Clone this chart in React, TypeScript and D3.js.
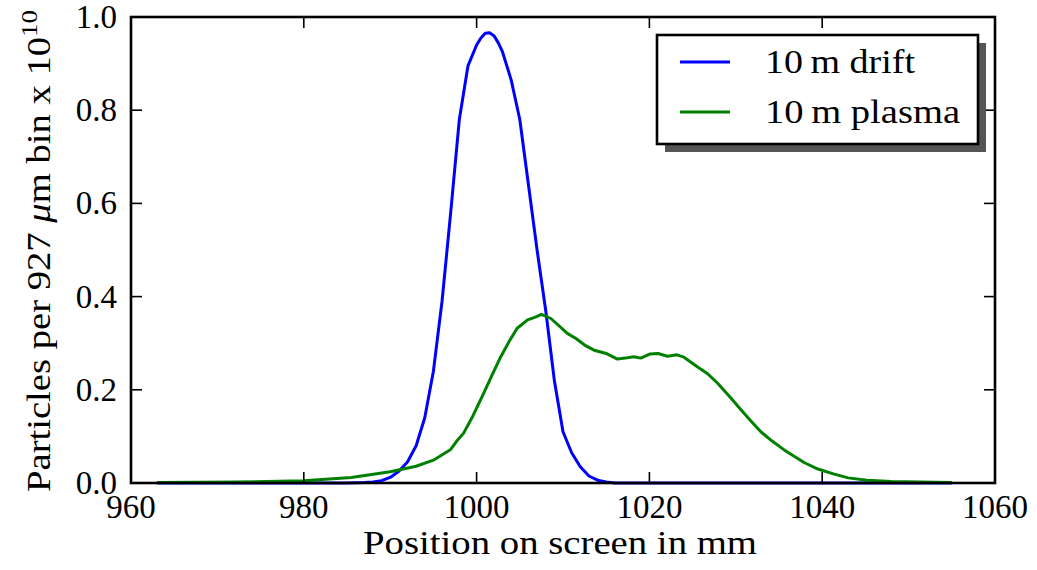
import React from "react";
import * as d3 from "d3";

// Position on screen (mm) and particle counts per 927 µm bin (×10^10)
const driftX = [963, 970, 980, 985, 987, 988, 989, 990, 991, 992, 993, 994, 995, 996, 997, 998, 999, 1000, 1000.5, 1001, 1001.5, 1002, 1002.5, 1003, 1004, 1005, 1006, 1007, 1008, 1009, 1010, 1011, 1012, 1013, 1014, 1015, 1016, 1020, 1030, 1040, 1055];
const driftY = [0, 0, 0, 0, 0.001, 0.002, 0.005, 0.012, 0.025, 0.045, 0.08, 0.14, 0.24, 0.39, 0.58, 0.78, 0.895, 0.94, 0.955, 0.965, 0.966, 0.96, 0.945, 0.925, 0.865, 0.78, 0.64, 0.5, 0.37, 0.22, 0.11, 0.065, 0.035, 0.015, 0.006, 0.002, 0, 0, 0, 0, 0];

const plasmaX = [963, 972, 980, 985.5, 990, 993, 995, 997, 997.7, 998.5, 999.6, 1000.8, 1001.8, 1002.8, 1003.8, 1004.7, 1005.9, 1006.8, 1007.5, 1008.6, 1009.5, 1010.5, 1011.5, 1012.5, 1013.6, 1015, 1016.3, 1017.2, 1018.2, 1019, 1020.1, 1021, 1022.1, 1023.2, 1024, 1025.5, 1026.7, 1027.9, 1029.3, 1030.6, 1031.8, 1032.9, 1034.2, 1035.6, 1037.9, 1039.5, 1041.4, 1043, 1045.2, 1048, 1051.4, 1055];
const plasmaY = [0.001, 0.002, 0.005, 0.012, 0.024, 0.036, 0.049, 0.072, 0.09, 0.107, 0.145, 0.192, 0.232, 0.271, 0.305, 0.332, 0.35, 0.356, 0.362, 0.353, 0.338, 0.321, 0.31, 0.296, 0.285, 0.278, 0.266, 0.268, 0.271, 0.268, 0.277, 0.278, 0.272, 0.275, 0.27, 0.25, 0.235, 0.214, 0.185, 0.157, 0.132, 0.11, 0.09, 0.071, 0.044, 0.03, 0.019, 0.011, 0.006, 0.003, 0.002, 0.001];

const xTicks = [960, 980, 1000, 1020, 1040, 1060];
const yTicks = [0.0, 0.2, 0.4, 0.6, 0.8, 1.0];

const seriesNames = ["10\u2009m drift", "10\u2009m plasma"];
const seriesColors = ["#0000ff", "#008000"];
const legendTextWidths = [150, 195];

const W = 1037;
const H = 570;
const left = 131;
const right = 995;
const top = 17;
const bottom = 483;
const textStyle = { fontFamily: "Liberation Serif" };

export default function App() {
  const x = d3.scaleLinear().domain([960, 1060]).range([left, right]);
  const y = d3.scaleLinear().domain([0, 1]).range([bottom, top]);

  const line = d3
    .line<[number, number]>()
    .x((d) => x(d[0]))
    .y((d) => y(d[1]));

  const drift = driftX.map((v, i) => [v, driftY[i]] as [number, number]);
  const plasma = plasmaX.map((v, i) => [v, plasmaY[i]] as [number, number]);

  const tickLen = 11;

  // legend geometry
  const lgX = 657;
  const lgY = 35;
  const lgW = 321;
  const lgH = 109;

  return (
    <svg
      width={W}
      height={H}
      style={{ position: "absolute", left: 0, top: 0, background: "#fff" }}
    >
      <rect width={W} height={H} fill="#fff" />
      <path d={line(drift) ?? ""} fill="none" stroke={seriesColors[0]} strokeWidth={3} strokeLinejoin="round" />
      <path d={line(plasma) ?? ""} fill="none" stroke={seriesColors[1]} strokeWidth={3} strokeLinejoin="round" />

      {/* ticks on all four sides, pointing inward */}
      {xTicks.map((t) => (
        <g key={"xt" + t}>
          <line x1={x(t)} x2={x(t)} y1={bottom} y2={bottom - tickLen} stroke="#000" strokeWidth={1.6} />
          <line x1={x(t)} x2={x(t)} y1={top} y2={top + tickLen} stroke="#000" strokeWidth={1.6} />
          <text x={x(t)} y={518} textAnchor="middle" fontSize={33} fill="#000" style={textStyle}>
            {t}
          </text>
        </g>
      ))}
      {yTicks.map((t) => (
        <g key={"yt" + t}>
          <line x1={left} x2={left + tickLen} y1={y(t)} y2={y(t)} stroke="#000" strokeWidth={1.6} />
          <line x1={right} x2={right - tickLen} y1={y(t)} y2={y(t)} stroke="#000" strokeWidth={1.6} />
          <text x={117} y={y(t) + 11} textAnchor="end" fontSize={33} fill="#000" style={textStyle}>
            {t.toFixed(1)}
          </text>
        </g>
      ))}

      <rect x={left} y={top} width={right - left} height={bottom - top} fill="none" stroke="#000" strokeWidth={2.6} />

      {/* axis titles */}
      <text
        x={363}
        y={554}
        fontSize={33}
        fill="#000"
        style={textStyle}
        textLength={394}
        lengthAdjust="spacingAndGlyphs"
      >
        Position on screen in mm
      </text>
      <text
        transform={`translate(50, 492) rotate(-90)`}
        fontSize={33}
        fill="#000"
        style={textStyle}
        textLength={482}
        lengthAdjust="spacingAndGlyphs"
      >
        Particles per 927 <tspan fontStyle="italic">μ</tspan>m bin x 10
        <tspan dy={-13} fontSize={23}>10</tspan>
      </text>

      {/* legend */}
      <rect x={lgX + 8} y={lgY + 8} width={lgW} height={lgH} fill="#555" />
      <rect x={lgX} y={lgY} width={lgW} height={lgH} fill="#fff" stroke="#000" strokeWidth={2.6} />
      {seriesNames.map((name, i) => (
        <g key={name}>
          <line x1={680} x2={730} y1={62 + i * 50} y2={62 + i * 50} stroke={seriesColors[i]} strokeWidth={3} />
          <text
            x={765}
            y={73 + i * 50}
            fontSize={34}
            fill="#000"
            style={textStyle}
            textLength={legendTextWidths[i]}
            lengthAdjust="spacingAndGlyphs"
          >
            {name}
          </text>
        </g>
      ))}
    </svg>
  );
}
